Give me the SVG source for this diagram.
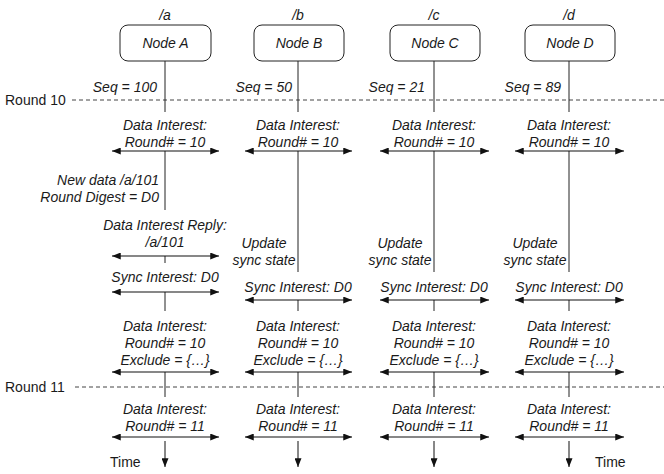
<svg xmlns="http://www.w3.org/2000/svg" width="664" height="474" viewBox="0 0 664 474">
<style>
text{font-family:"Liberation Sans",Arial,sans-serif;font-size:14px;fill:#1a1a1a}
.i{font-style:italic}
.m{text-anchor:middle}
.e{text-anchor:end}
.box{fill:#fff;stroke:#222;stroke-width:1}
.ll{stroke:#222;stroke-width:1;fill:none}
.da{stroke:#444;stroke-width:1;stroke-dasharray:4,3;fill:none}
.ar{stroke:#111;stroke-width:1.2;fill:none;marker-start:url(#ah);marker-end:url(#ah)}
.dn{stroke:#111;stroke-width:1;fill:none;marker-end:url(#ah)}
</style>
<defs>
<marker id="ah" viewBox="0 0 10 8" markerWidth="10" markerHeight="7" refX="10" refY="4" orient="auto-start-reverse" markerUnits="userSpaceOnUse">
<path d="M0,0 L10,4 L0,8 z" fill="#111"/>
</marker>
</defs>
<rect width="664" height="474" fill="#fff"/>

<g id="rounds">
<text x="5" y="105">Round 10</text>
<line class="da" x1="72" y1="100" x2="664" y2="100"/>
<text x="5" y="392">Round 11</text>
<line class="da" x1="75" y1="387" x2="664" y2="387"/>
</g>

<g id="connectors">
<!-- lifeline A -->
<line class="ll" x1="165" y1="61" x2="165" y2="112"/>
<line class="ll" x1="165" y1="151" x2="165" y2="210"/>
<line class="ll" x1="165" y1="256" x2="165" y2="263"/>
<line class="ll" x1="165" y1="292" x2="165" y2="311"/>
<line class="ll" x1="165" y1="372" x2="165" y2="397"/>
<line class="dn" x1="165" y1="441" x2="165" y2="467"/>
<!-- lifeline B -->
<line class="ll" x1="298" y1="61" x2="298" y2="112"/>
<line class="ll" x1="298" y1="151" x2="298" y2="272"/>
<line class="ll" x1="298" y1="300" x2="298" y2="311"/>
<line class="ll" x1="298" y1="372" x2="298" y2="397"/>
<line class="dn" x1="298" y1="441" x2="298" y2="467"/>
<!-- lifeline C -->
<line class="ll" x1="434" y1="61" x2="434" y2="112"/>
<line class="ll" x1="434" y1="151" x2="434" y2="272"/>
<line class="ll" x1="434" y1="300" x2="434" y2="311"/>
<line class="ll" x1="434" y1="372" x2="434" y2="397"/>
<line class="dn" x1="434" y1="441" x2="434" y2="467"/>
<!-- lifeline D -->
<line class="ll" x1="569" y1="61" x2="569" y2="112"/>
<line class="ll" x1="569" y1="151" x2="569" y2="272"/>
<line class="ll" x1="569" y1="300" x2="569" y2="311"/>
<line class="ll" x1="569" y1="372" x2="569" y2="397"/>
<line class="dn" x1="569" y1="441" x2="569" y2="467"/>

<!-- Data Interest Round 10 -->
<line class="ar" x1="112" y1="151" x2="219" y2="151"/>
<line class="ar" x1="245" y1="151" x2="352" y2="151"/>
<line class="ar" x1="380" y1="151" x2="489" y2="151"/>
<line class="ar" x1="515" y1="151" x2="624" y2="151"/>
<!-- Reply -->
<line class="ar" x1="112" y1="256" x2="219" y2="256"/>
<!-- Sync -->
<line class="ar" x1="112" y1="292" x2="219" y2="292"/>
<line class="ar" x1="245" y1="300" x2="352" y2="300"/>
<line class="ar" x1="380" y1="300" x2="489" y2="300"/>
<line class="ar" x1="515" y1="300" x2="624" y2="300"/>
<!-- Exclude -->
<line class="ar" x1="112" y1="372" x2="219" y2="372"/>
<line class="ar" x1="245" y1="372" x2="352" y2="372"/>
<line class="ar" x1="380" y1="372" x2="489" y2="372"/>
<line class="ar" x1="515" y1="372" x2="624" y2="372"/>
<!-- Round 11 -->
<line class="ar" x1="112" y1="437" x2="219" y2="437"/>
<line class="ar" x1="245" y1="437" x2="352" y2="437"/>
<line class="ar" x1="380" y1="437" x2="489" y2="437"/>
<line class="ar" x1="515" y1="437" x2="624" y2="437"/>
</g>

<g id="nodeA">
<text class="i m" x="165" y="20">/a</text>
<rect class="box" x="120" y="25" width="91" height="36" rx="8"/>
<text class="i m" x="165.5" y="48">Node A</text>
</g>
<g id="nodeB">
<text class="i m" x="298" y="20">/b</text>
<rect class="box" x="254" y="25" width="90" height="36" rx="8"/>
<text class="i m" x="299" y="48">Node B</text>
</g>
<g id="nodeC">
<text class="i m" x="434" y="20">/c</text>
<rect class="box" x="390" y="25" width="90" height="36" rx="8"/>
<text class="i m" x="435" y="48">Node C</text>
</g>
<g id="nodeD">
<text class="i m" x="569" y="20">/d</text>
<rect class="box" x="525" y="25" width="90" height="36" rx="8"/>
<text class="i m" x="570" y="48">Node D</text>
</g>

<g id="labels">
<text class="i e" x="157" y="92">Seq = 100</text>
<text class="i e" x="292" y="92">Seq = 50</text>
<text class="i e" x="425" y="92">Seq = 21</text>
<text class="i e" x="561" y="92">Seq = 89</text>

<text class="i m" x="165" y="130">Data Interest:</text>
<text class="i m" x="165" y="147">Round# = 10</text>
<text class="i m" x="298" y="130">Data Interest:</text>
<text class="i m" x="298" y="147">Round# = 10</text>
<text class="i m" x="434" y="130">Data Interest:</text>
<text class="i m" x="434" y="147">Round# = 10</text>
<text class="i m" x="569" y="130">Data Interest:</text>
<text class="i m" x="569" y="147">Round# = 10</text>

<text class="i e" x="159" y="185">New data /a/101</text>
<text class="i e" x="159" y="202">Round Digest = D0</text>

<text class="i m" x="165" y="230">Data Interest Reply:</text>
<text class="i m" x="165" y="247">/a/101</text>

<text class="i m" x="264" y="248">Update</text>
<text class="i m" x="264" y="265">sync state</text>
<text class="i m" x="400" y="248">Update</text>
<text class="i m" x="400" y="265">sync state</text>
<text class="i m" x="535" y="248">Update</text>
<text class="i m" x="535" y="265">sync state</text>

<text class="i m" x="165" y="282">Sync Interest: D0</text>
<text class="i m" x="298" y="292">Sync Interest: D0</text>
<text class="i m" x="434" y="292">Sync Interest: D0</text>
<text class="i m" x="569" y="292">Sync Interest: D0</text>

<text class="i m" x="165" y="331">Data Interest:</text>
<text class="i m" x="165" y="348">Round# = 10</text>
<text class="i m" x="165" y="365">Exclude = {…}</text>
<text class="i m" x="298" y="331">Data Interest:</text>
<text class="i m" x="298" y="348">Round# = 10</text>
<text class="i m" x="298" y="365">Exclude = {…}</text>
<text class="i m" x="434" y="331">Data Interest:</text>
<text class="i m" x="434" y="348">Round# = 10</text>
<text class="i m" x="434" y="365">Exclude = {…}</text>
<text class="i m" x="569" y="331">Data Interest:</text>
<text class="i m" x="569" y="348">Round# = 10</text>
<text class="i m" x="569" y="365">Exclude = {…}</text>

<text class="i m" x="165" y="414">Data Interest:</text>
<text class="i m" x="165" y="431">Round# = 11</text>
<text class="i m" x="298" y="414">Data Interest:</text>
<text class="i m" x="298" y="431">Round# = 11</text>
<text class="i m" x="434" y="414">Data Interest:</text>
<text class="i m" x="434" y="431">Round# = 11</text>
<text class="i m" x="569" y="414">Data Interest:</text>
<text class="i m" x="569" y="431">Round# = 11</text>

<text x="110" y="467">Time</text>
<text x="595" y="467">Time</text>
</g>
</svg>
